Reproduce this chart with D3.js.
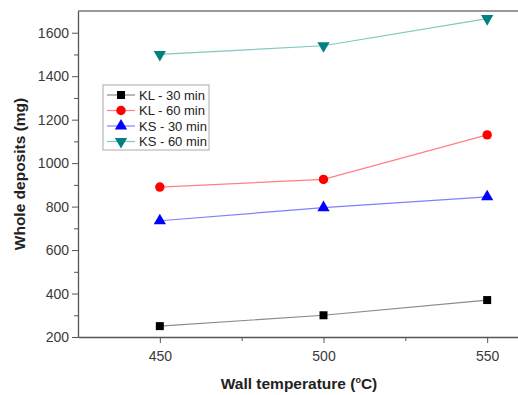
<!DOCTYPE html>
<html>
<head>
<meta charset="utf-8">
<script src="https://cdn.jsdelivr.net/npm/d3@7"></script>
<style>
body { margin: 0; background: #fff; }
svg { font-family: "Liberation Sans", Arial, sans-serif; display: block; }
.axis path, .axis line { stroke: #555; }
.axis text { fill: #3a3a3a; font-size: 14px; }
</style>
</head>
<body>
<svg id="plot"></svg>
<script>
var width = 518;
var height = 395;
var margin = {left: 78, top: 11, right: -51, bottom: 58};

var temps = [450, 500, 550];
var kl30 = [250, 300, 370];
var kl60 = [890, 925, 1130];
var ks30 = [735, 795, 845];
var ks60 = [1500, 1540, 1665];
var yTicks = [200, 400, 600, 800, 1000, 1200, 1400, 1600];

var series = [
    {name: "KL - 30 min", values: kl30, line: "#8a8a8a", fill: "#000", shape: d3.symbolSquare},
    {name: "KL - 60 min", values: kl60, line: "#ff8080", fill: "#f00", shape: d3.symbolCircle},
    {name: "KS - 30 min", values: ks30, line: "#8080ff", fill: "#00f", shape: d3.symbolTriangle},
    {name: "KS - 60 min", values: ks60, line: "#80c8c0", fill: "#008080", shape: "down"}
];

var svg = d3.select("#plot")
    .attr("width", width)
    .attr("height", height);

var x = d3.scaleLinear().domain([425, 575]).range([margin.left, width - margin.right]);
var y = d3.scaleLinear().domain([200, 1700]).range([height - margin.bottom, margin.top]);

// frame
svg.append("line")
    .attr("x1", x(425)).attr("x2", x(575))
    .attr("y1", y(1700)).attr("y2", y(1700))
    .attr("stroke", "#777").attr("stroke-width", 1.5);

svg.append("g")
    .attr("class", "axis")
    .attr("transform", "translate(0," + y(200) + ")")
    .call(d3.axisBottom(x).tickValues([475, 525]).tickSize(4).tickFormat(""))
    .call(function (g) { g.select(".domain").remove(); });
svg.append("g")
    .attr("class", "axis")
    .attr("transform", "translate(0," + y(200) + ")")
    .call(d3.axisBottom(x).tickValues(temps).tickSize(6).tickSizeOuter(0).tickPadding(8))
    .call(function (g) { g.select(".domain").attr("stroke-width", 1.3); });

svg.append("g")
    .attr("class", "axis")
    .attr("transform", "translate(" + x(425) + ",0)")
    .call(d3.axisLeft(y).tickValues(d3.range(300, 1700, 200)).tickSize(4).tickFormat(""))
    .call(function (g) { g.select(".domain").remove(); });
svg.append("g")
    .attr("class", "axis")
    .attr("transform", "translate(" + x(425) + ",0)")
    .call(d3.axisLeft(y).tickValues(yTicks).tickSize(6).tickSizeOuter(0).tickPadding(3).tickFormat(d3.format("d")))
    .call(function (g) { g.select(".domain").attr("stroke-width", 1.3); });

svg.append("text")
    .attr("x", 299).attr("y", 389)
    .attr("text-anchor", "middle")
    .attr("font-size", "15.5px").attr("font-weight", "bold").attr("fill", "#222")
    .html('Wall temperature (<tspan font-size="9px" dy="-6">o</tspan><tspan dy="6">C)</tspan>');

svg.append("text")
    .attr("transform", "translate(25," + y(950) + ") rotate(-90)")
    .attr("text-anchor", "middle")
    .attr("font-size", "15.5px").attr("font-weight", "bold").attr("fill", "#222")
    .text("Whole deposits (mg)");

function marker(shape) {
    if (shape === "down") {
        return d3.symbol().type(d3.symbolTriangle).size(65)();
    }
    var size = shape === d3.symbolSquare ? 64 : (shape === d3.symbolCircle ? 70 : 65);
    return d3.symbol().type(shape).size(size)();
}

var line = d3.line()
    .x(function (d, i) { return x(temps[i]); })
    .y(function (d) { return y(d); });

series.forEach(function (s) {
    svg.append("path")
        .attr("d", line(s.values))
        .attr("fill", "none")
        .attr("stroke", s.line)
        .attr("stroke-width", 1.2);
    svg.selectAll(null)
        .data(s.values)
        .enter()
        .append("path")
        .attr("d", marker(s.shape))
        .attr("fill", s.fill)
        .attr("transform", function (d, i) {
            return "translate(" + x(temps[i]) + "," + y(d) + ")" + (s.shape === "down" ? " rotate(180)" : "");
        });
});

// legend
var legend = svg.append("g").attr("transform", "translate(103,85)");
legend.append("rect")
    .attr("width", 106).attr("height", 65)
    .attr("fill", "#fff").attr("stroke", "#aaa");
series.forEach(function (s, i) {
    var row = legend.append("g").attr("transform", "translate(0," + (10 + i * 15.5) + ")");
    row.append("line")
        .attr("x1", 4).attr("x2", 32)
        .attr("stroke", s.line).attr("stroke-width", 1.2);
    row.append("path")
        .attr("d", marker(s.shape))
        .attr("fill", s.fill)
        .attr("transform", "translate(18,0)" + (s.shape === "down" ? " rotate(180)" : ""));
    row.append("text")
        .attr("x", 36).attr("y", 4.5)
        .attr("font-size", "13px").attr("fill", "#222")
        .text(s.name);
});
</script>
</body>
</html>
